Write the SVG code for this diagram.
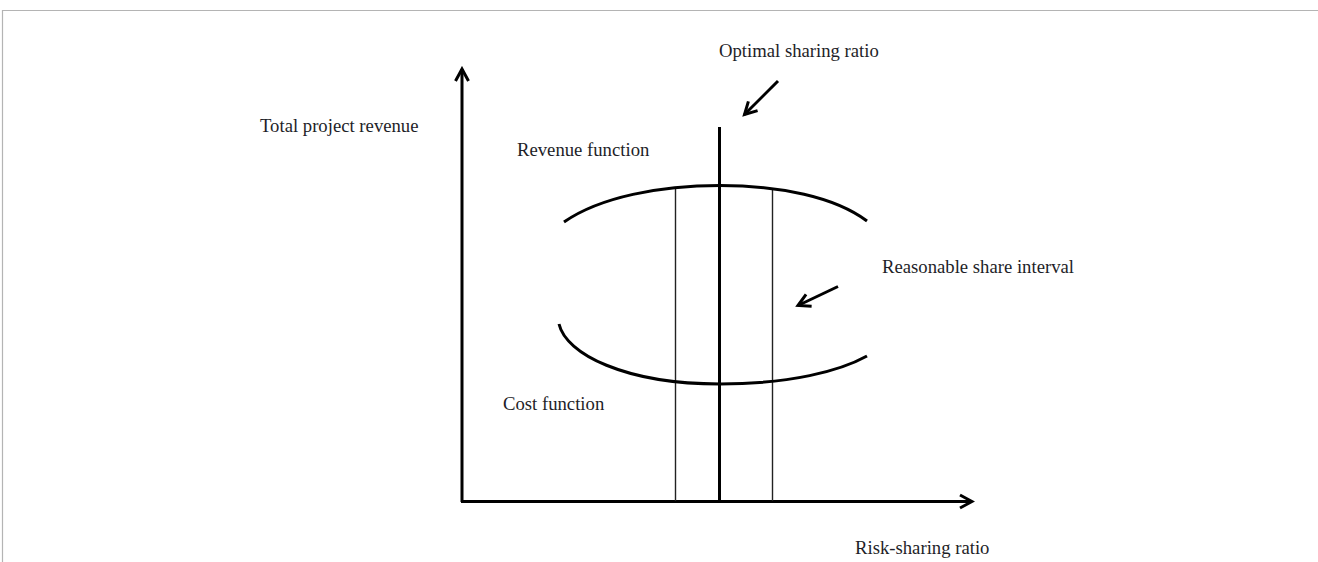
<svg xmlns="http://www.w3.org/2000/svg" width="1318" height="562" viewBox="0 0 1318 562">
<defs>
<style>
.lbl{font-family:"Liberation Serif","Times New Roman",serif;font-size:18.7px;fill:#1e1e28}
.thick{stroke:#000;stroke-width:3;fill:none}
.thin{stroke:#222;stroke-width:1.4;fill:none}
.frame{stroke:#b4b4b4;stroke-width:1.2;fill:none}
</style>
<marker id="chev" markerUnits="userSpaceOnUse" viewBox="-14 -9 17 18" refX="0" refY="0" markerWidth="17" markerHeight="18" orient="auto">
<path d="M-12,-6.5 L0,0 L-12,6.5" stroke="#000" stroke-width="3" fill="none" stroke-linejoin="miter"/>
</marker>
</defs>
<rect width="1318" height="562" fill="#fff"/>
<g id="frame">
<line class="frame" x1="2" y1="10.5" x2="1318" y2="10.5"/>
<line class="frame" x1="2.5" y1="10" x2="2.5" y2="562"/>
</g>
<g id="connectors">
<line id="y-axis" class="thick" x1="462" y1="502" x2="462" y2="69" marker-end="url(#chev)"/>
<line id="x-axis" class="thick" x1="461" y1="501.5" x2="972" y2="501.5" marker-end="url(#chev)"/>
<line id="optimal-line" class="thick" x1="719.5" y1="127" x2="719.5" y2="501"/>
<line id="interval-left" class="thin" x1="675.5" y1="189" x2="675.5" y2="501"/>
<line id="interval-right" class="thin" x1="772.5" y1="189" x2="772.5" y2="501"/>
<line id="arrow-optimal" class="thick" x1="778" y1="81" x2="744.5" y2="114.5" marker-end="url(#chev)"/>
<line id="arrow-interval" class="thick" x1="838" y1="286.5" x2="798" y2="305.5" marker-end="url(#chev)"/>
</g>
<g id="revenue-function">
<path class="thick" d="M564,222 C600,197 660,185.5 720,185.5 C780,185.5 835,197 867,221"/>
<text class="lbl" x="517" y="156">Revenue function</text>
</g>
<g id="cost-function">
<path class="thick" d="M559,324 C566,354 625,384 720,384 C790,384 840,371 867,356"/>
<text class="lbl" x="503" y="410">Cost function</text>
</g>
<g id="label-total-revenue">
<text class="lbl" x="260" y="132">Total project revenue</text>
</g>
<g id="label-optimal">
<text class="lbl" x="719" y="57">Optimal sharing ratio</text>
</g>
<g id="label-interval">
<text class="lbl" x="882" y="273">Reasonable share interval</text>
</g>
<g id="label-risk-sharing">
<text class="lbl" x="855" y="554">Risk-sharing ratio</text>
</g>
</svg>
